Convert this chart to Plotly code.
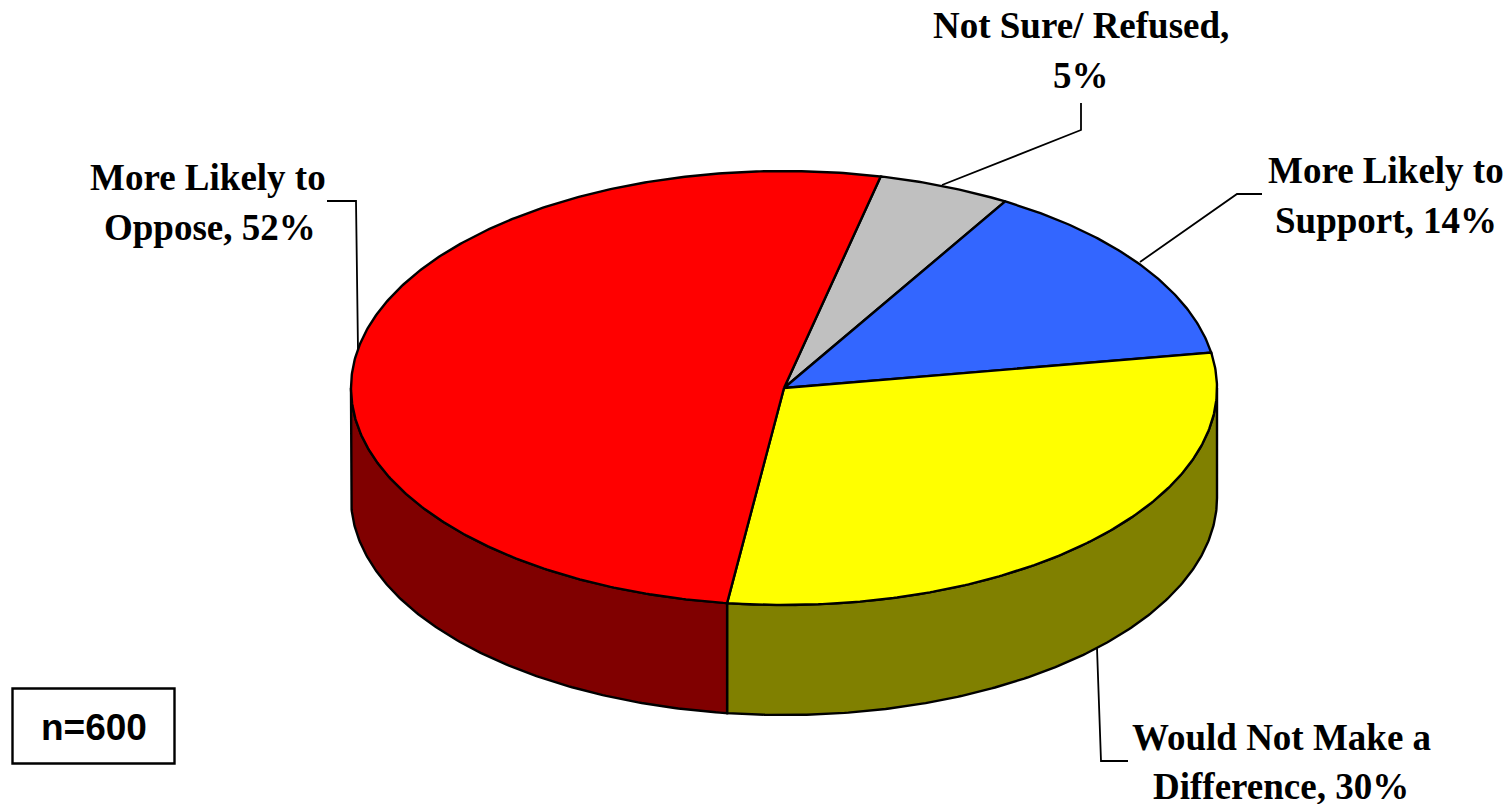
import numpy as np
import plotly.graph_objects as go

# Data
categories = ["Not Sure/ Refused", "More Likely to Support", "Would Not Make a Difference", "More Likely to Oppose"]
values = [5, 14, 30, 52]
sample_label = "n=600"
top_colors = ["#C0C0C0", "#3366FF", "#FFFF00", "#FF0000"]
side_colors = ["#606060", "#1A3380", "#808000", "#800000"]

# Drawing geometry (pixel space of the page)
W, H = 1510, 804
CX, CY, RX, RY, DEPTH = 784, 388, 433, 217, 110
START_DEG = 12.9

label_lines = [
    [("Not Sure/ Refused,", 1081, 25), ("5%", 1081, 75)],
    [("More Likely to", 1386, 170), ("Support, 14%", 1386, 220)],
    [("Would Not Make a", 1281, 737), ("Difference, 30%", 1281, 786)],
    [("More Likely to", 208, 177), ("Oppose, 52%", 210, 227)],
]
leaders = [
    [(1081, 103), (1081, 130), (942, 185)],
    [(1262, 194), (1237, 194), (1140, 262)],
    [(1128, 761), (1101, 761), (1097, 648)],
    [(327, 201), (356, 201), (358, 350)],
]

def pt(t_deg, dy=0.0):
    t = np.radians(t_deg)
    return CX + RX * np.sin(t), CY - RY * np.cos(t) + dy

def arc(a, b, dy=0.0):
    ts = np.linspace(a, b, max(int(abs(b - a) * 2), 2))
    return pt(ts, dy)

fig = go.Figure()
line = dict(color="black", width=2.4)

# slice boundaries derive from the values
scale = 360.0 / sum(values)
edges = [START_DEG]
for v in values:
    edges.append(edges[-1] + v * scale)

# visible side wall: front half of the disc (90 to 270 degrees)
for i in range(len(values)):
    a, b = max(edges[i], 90), min(edges[i + 1], 270)
    if b <= a:
        continue
    x1, y1 = arc(a, b)
    x2, y2 = arc(b, a, DEPTH)
    fig.add_trace(go.Scatter(
        x=np.r_[x1, x2, x1[0]], y=np.r_[y1, y2, y1[0]], mode="lines",
        fill="toself", fillcolor=side_colors[i], line=line, hoverinfo="skip", showlegend=False))

# top face
for i in range(len(values)):
    x1, y1 = arc(edges[i], edges[i + 1])
    fig.add_trace(go.Scatter(
        x=np.r_[CX, x1, CX], y=np.r_[CY, y1, CY], mode="lines",
        fill="toself", fillcolor=top_colors[i], line=line,
        name=categories[i], showlegend=False))

# leader lines
for pts in leaders:
    xs, ys = zip(*pts)
    fig.add_trace(go.Scatter(x=xs, y=ys, mode="lines", line=dict(color="black", width=1.8),
                             hoverinfo="skip", showlegend=False))

annotations = []
for group in label_lines:
    for text, x, y in group:
        annotations.append(dict(x=x, y=y, text="<b>" + text + "</b>", showarrow=False,
                                xanchor="center", yanchor="middle",
                                font=dict(family="Liberation Serif", size=37, color="black")))
annotations.append(dict(x=94, y=727, text="<b>" + sample_label + "</b>", showarrow=False,
                        xanchor="center", yanchor="middle",
                        font=dict(family="Liberation Sans", size=37, color="black")))

fig.update_layout(
    width=W, height=H, autosize=False, margin=dict(l=0, r=0, t=0, b=0),
    paper_bgcolor="white", plot_bgcolor="white",
    xaxis=dict(range=[0, W], visible=False, fixedrange=True),
    yaxis=dict(range=[H, 0], visible=False, fixedrange=True),
    annotations=annotations,
    shapes=[dict(type="rect", x0=12.5, x1=174.5, y0=688.5, y1=763.5, line=dict(color="black", width=2.4),
                 fillcolor="white", layer="below")],
)
fig.write_html("out.html", config={"displayModeBar": False},
               post_script="document.body.style.margin='0';document.body.style.overflow='hidden';")
